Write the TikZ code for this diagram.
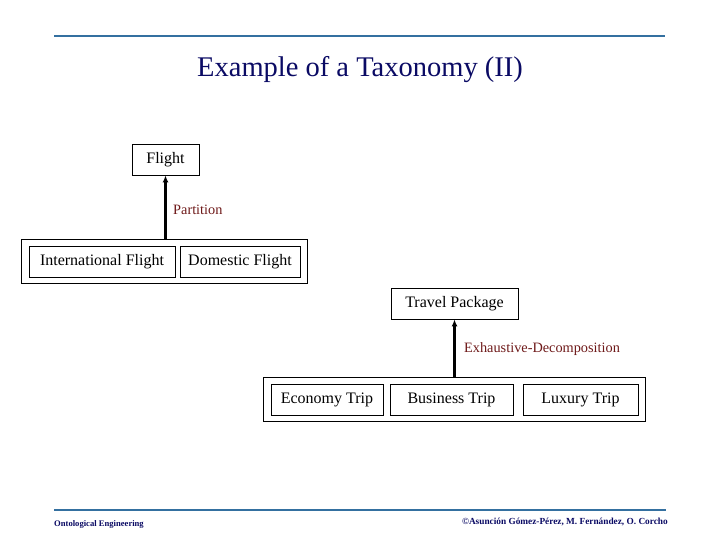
\documentclass[tikz,border=0pt]{standalone}
\definecolor{slideblue}{RGB}{52,112,160}
\definecolor{slidenavy}{RGB}{10,10,100}
\definecolor{labelred}{RGB}{110,25,25}
\usepackage{fontspec}
\setmainfont{Liberation Serif}
\usetikzlibrary{arrows.meta,fit}

\begin{document}
\begin{tikzpicture}[x=1pt, y=-1pt,
    conceptbox/.style={draw, line width=0.8pt, minimum height=31pt, inner sep=0pt,
      font=\fontsize{16}{19}\selectfont},
    groupbox/.style={draw, line width=0.8pt, inner xsep=7pt, inner ysep=6pt},
    relation/.style={line width=2.4pt, -{Latex[length=7pt,width=6pt]}},
    rellabel/.style={font=\fontsize{14.3}{17}\selectfont, text=labelred, anchor=west, inner sep=0pt},
    footer/.style={text=slidenavy, inner sep=0pt}]
  \useasboundingbox (0,0) rectangle (720,540);

  % Title
  \draw[slideblue, line width=2pt] (54,36) -- (665,36);
  \node[text=slidenavy, font=\fontsize{28.5}{34}\selectfont] (title) at (360,70) {Example of a Taxonomy (II)};

  % Flight partition
  \node[conceptbox, minimum width=67pt] (flight) at (165.5,159.5) {Flight};
  \node[conceptbox, minimum width=146pt] (intl) at (102,261.5) {International Flight};
  \node[conceptbox, minimum width=120pt] (domestic) at (240,261.5) {Domestic Flight};
  \node[groupbox, fit=(intl)(domestic)] (flightparts) {};
  \draw[relation] (flightparts.north -| flight) -- (flight.south);
  \node[rellabel] (partition) at (173,210) {Partition};

  % Travel package decomposition
  \node[conceptbox, minimum width=127pt] (travel) at (454.5,303.5) {Travel Package};
  \node[conceptbox, minimum width=112pt] (economy) at (327,399.5) {Economy Trip};
  \node[conceptbox, minimum width=123pt] (business) at (451.5,399.5) {Business Trip};
  \node[conceptbox, minimum width=115pt] (luxury) at (580.5,399.5) {Luxury Trip};
  \node[groupbox, fit=(economy)(business)(luxury)] (travelparts) {};
  \draw[relation] (travelparts.north -| travel) -- (travel.south);
  \node[rellabel] (decomp) at (464,349) {Exhaustive-Decomposition};

  % Footer
  \draw[slideblue, line width=2pt] (54,510) -- (666,510);
  \node[footer, anchor=west, font=\fontsize{8.6}{10}\selectfont\bfseries] (course) at (54,524) {Ontological Engineering};
  \node[footer, anchor=east, font=\fontsize{9.3}{11}\selectfont\bfseries] (authors) at (668,522) {©Asunción Gómez-Pérez, M. Fernández, O. Corcho};
\end{tikzpicture}
\end{document}
